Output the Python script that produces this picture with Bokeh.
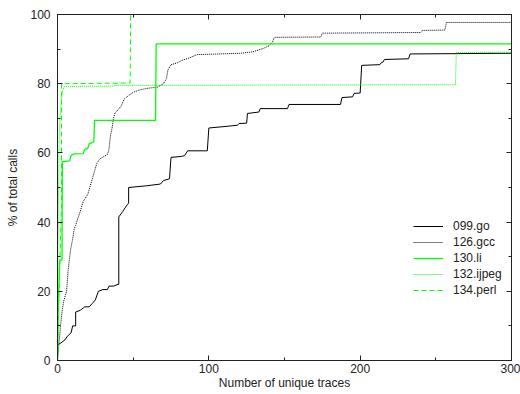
from bokeh.plotting import figure
from bokeh.models import Range1d, LinearAxis, SingleIntervalTicker, Legend, LegendItem, CustomJSTickFormatter
from bokeh.embed import file_html
from bokeh.resources import INLINE

# ---- data ----
go_x = [0, 0, 2, 5, 6.5, 9, 10, 12, 12, 15, 18, 21, 23, 25, 27, 30, 33, 34, 37, 40, 40.5, 40.5, 43, 46, 47, 47,
        59, 68, 70, 74, 75, 82, 84, 86, 99, 100, 110, 119, 120, 125, 125.5, 133, 134, 152, 153, 187, 188,
        195, 196, 200, 201, 213, 214, 215, 216, 232, 233, 300]
go_y = [0, 4.5, 5, 6, 7, 8, 10, 10, 14, 14.5, 15.5, 15.5, 16.5, 17.5, 20, 20.5, 20.5, 21.5, 21.5, 22, 22, 41.5, 43, 45, 45.5, 50,
        50.5, 51, 52, 52.5, 58.7, 59, 59.2, 60.6, 60.6, 67.2, 67.6, 68, 68.5, 68.6, 71.4, 71.8, 72.8, 72.8, 74, 74, 76,
        76.2, 77.2, 77.3, 85.3, 85.5, 86.1, 86.2, 87, 87.2, 88.6, 88.8]

gcc_x = [0, 1, 2, 3, 4, 6, 7, 8.6, 10, 11, 12, 13, 15, 17, 20, 22, 24, 26, 28, 30, 33, 34, 35, 36, 37, 38, 40, 42, 44,
         47, 50, 55, 60, 66, 70, 72, 73, 75, 79, 82, 88, 92, 121, 129, 136, 140, 142, 143, 144, 174, 175, 240, 241,
         256, 257, 300]
gcc_y = [0, 5, 10, 14, 17, 20, 26, 32, 35, 38, 39, 40.5, 43, 46, 48, 51, 54, 57, 58.3, 58.8, 59.5, 61, 65, 67, 70, 71.5,
         72.5, 73.5, 75.5, 76.6, 77.5, 78.3, 78.7, 79, 80, 81.5, 84, 85.5, 86, 86.7, 87.6, 88.4, 88.8, 89.2, 90.2, 91,
         92, 93.2, 93.4, 93.5, 94.6, 94.8, 95.4, 95.5, 97.7, 97.7]

li_x = [0, 0.5, 1.5, 3, 3.2, 8, 9, 11, 17, 18, 20, 21, 23, 24, 24.5, 64.8, 65.2, 300]
li_y = [0, 15, 29, 29, 57.5, 57.7, 59.3, 59.7, 59.8, 61, 61.3, 62.7, 63, 63.2, 69.4, 69.4, 91.5, 91.5]

ijpeg_x = [0, 0.3, 0.7, 1, 1.5, 2.5, 3.5, 4.5, 37, 38, 263, 263.5, 300]
ijpeg_y = [0, 30, 50, 62, 69, 75, 78, 79.2, 79.3, 79.5, 79.7, 89, 89.1]

perl_x = [0, 1, 2, 2.6, 2.7, 48, 48.3, 300]
perl_y = [0, 20, 35, 45, 80, 80.2, 100, 100]

series_labels = ["099.go", "126.gcc", "130.li", "132.ijpeg", "134.perl"]
x_ticks_interval = 100
y_ticks_interval = 20
FONT = "Liberation Sans"
INK = "#222222"

p = figure(frame_width=454, frame_height=346, output_backend="svg", toolbar_location=None,
           x_range=Range1d(0, 300), y_range=Range1d(0, 100),
           min_border_left=57, min_border_right=9, min_border_top=14, min_border_bottom=34)
p.grid.visible = False
p.outline_line_color = INK
p.background_fill_color = "white"
p.border_fill_color = "white"

def style_axis(ax):
    ax.major_tick_in = 5
    ax.major_tick_out = 0
    ax.minor_tick_in = 3
    ax.minor_tick_out = 0
    ax.axis_line_color = INK
    ax.major_tick_line_color = INK
    ax.minor_tick_line_color = INK
    ax.major_label_text_font = FONT
    ax.major_label_text_font_size = "12px"
    ax.major_label_text_color = INK
    ax.axis_label_text_font = FONT
    ax.axis_label_text_font_size = "12px"
    ax.axis_label_text_font_style = "normal"
    ax.axis_label_text_color = INK

p.xaxis.ticker = SingleIntervalTicker(interval=x_ticks_interval, num_minor_ticks=2)
p.yaxis.ticker = SingleIntervalTicker(interval=y_ticks_interval, num_minor_ticks=2)
style_axis(p.xaxis[0])
style_axis(p.yaxis[0])
p.xaxis.axis_label = "Number of unique traces"
p.yaxis.axis_label = "% of total calls"
p.xaxis.major_label_standoff = 3
p.xaxis.axis_label_standoff = 0
p.yaxis.major_label_standoff = 7
p.yaxis.axis_label_standoff = 7

blank = CustomJSTickFormatter(code="return '';")
top = LinearAxis(ticker=SingleIntervalTicker(interval=x_ticks_interval, num_minor_ticks=2), formatter=blank)
style_axis(top)
top.major_label_standoff = 0
right = LinearAxis(ticker=SingleIntervalTicker(interval=y_ticks_interval, num_minor_ticks=2), formatter=blank)
style_axis(right)
right.major_label_standoff = 0
p.add_layout(top, "above")
p.add_layout(right, "right")

r_go = p.line(go_x, go_y, line_color="black", line_width=1)
r_gcc = p.line(gcc_x, gcc_y, line_color="black", line_width=1, line_dash="1 1")
r_li = p.line(li_x, li_y, line_color="#00ff00", line_width=1.3)
r_ij = p.line(ijpeg_x, ijpeg_y, line_color="#00ff00", line_width=1, line_dash="1 1")
r_pl = p.line(perl_x, perl_y, line_color="#00ff00", line_width=1, line_dash="5 3")

legend = Legend(items=[
    LegendItem(label=lab, renderers=[r])
    for lab, r in zip(series_labels, [r_go, r_gcc, r_li, r_ij, r_pl])
], location=(356, 62))
legend.padding = 0
legend.margin = 0
legend.spacing = 0
legend.border_line_color = None
legend.background_fill_alpha = 0
legend.glyph_width = 30
legend.glyph_height = 16
legend.label_height = 16
legend.label_standoff = 10
legend.label_text_font = FONT
legend.label_text_font_size = "12px"
legend.label_text_color = INK
p.add_layout(legend)

open("out.html", "w").write(file_html(p, INLINE))
